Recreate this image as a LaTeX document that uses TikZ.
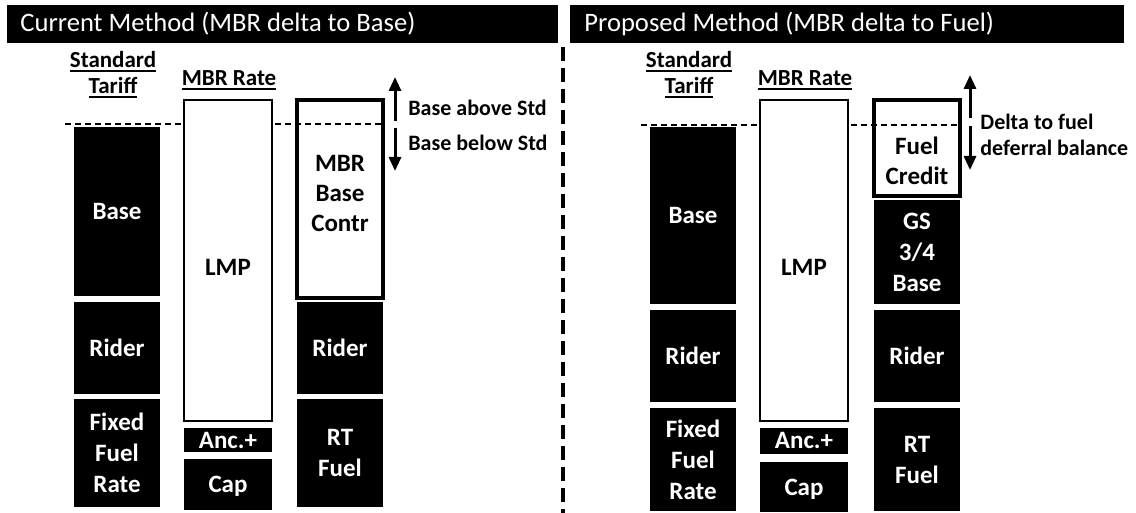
\documentclass[tikz,border=0pt]{standalone}
\usepackage{fontspec}
\setmainfont{Carlito}
\newcommand{\myul}[1]{\setbox0\hbox{#1}\rlap{\rule[-2.4pt]{\wd0}{1pt}}\box0}
\usetikzlibrary{arrows.meta}
\begin{document}
\begin{tikzpicture}[x=0.5pt,y=-0.5pt,
 rb/.style n args={4}{at={({(#1+#3)/2},{(#2+#4)/2})}, minimum width={(#3-#1)*0.5pt}, minimum height={(#4-#2)*0.5pt}, inner sep=0pt, outer sep=0pt},
 bk/.style={fill=black, text=white, align=center, font=\fontsize{12.5}{15.5}\selectfont\bfseries},
 bkone/.style={fill=black, text=white, text height=8pt, text depth=0pt, font=\fontsize{12.5}{15.5}\selectfont\bfseries},
 wb/.style={draw=black, fill=white, line width=1.25pt},
 wbt/.style={wb, line width=2pt},
 hdr/.style={fill=black},
 hdrtxt/.style={text=white, anchor=west, inner sep=0pt, font=\fontsize{13.3}{15}\selectfont},
 toplbl/.style={inner sep=0pt, font=\fontsize{11.5}{14}\selectfont\bfseries},
 sidelbl/.style={anchor=west, inner sep=0pt, font=\fontsize{11}{13}\selectfont\bfseries},
 boxtxt/.style={inner sep=0pt, align=center, font=\fontsize{12.5}{15}\selectfont\bfseries},
 stdline/.style={line width=1.25pt, dash pattern=on 3pt off 2pt},
 divline/.style={line width=1.6pt, dash pattern=on 7pt off 3.5pt},
 varrow/.style={line width=1.5pt, -{Triangle[length=7pt,width=6pt]}}
]
\useasboundingbox (0,0) rectangle (1136,513);

% ---------------- divider
\coordinate (dT) at (563,47);
\coordinate (dB) at (563,513);
\draw[divline] (dT) -- (dB);

% ================= LEFT PANEL
\node[hdr, rb={7}{5}{558}{43}] (hdrL) {};
\node[hdrtxt] (hdrLt) at (20,24) {Current Method (MBR delta to Base)};
\node[toplbl] (stdL1) at (113,62) {\myul{Standard}};
\node[toplbl] (stdL2) at (113,88) {\myul{Tariff}};
\node[toplbl] (mbrL) at (229,80) {\myul{MBR Rate}};

\node[bk, rb={74}{127}{160}{296}] (baseL) {Base};
\node[bk, rb={74}{302}{160}{394}] (riderL) {Rider};
\node[bk, rb={74}{399}{160}{507}] (fixedL) {Fixed\\Fuel\\Rate};

\node[wbt, rb={297}{100}{383}{298}] (contrL) {};
\node[boxtxt] (contrLt) at (340,193) {MBR\\Base\\Contr};

\coordinate (hL1) at (65,124);
\coordinate (hL2) at (383,124);
\draw[stdline] (hL1) -- (hL2);

\node[wb, rb={184}{100}{272}{421}] (lmpL) {};
\node[boxtxt] (lmpLt) at (228,267) {LMP};
\node[bkone, rb={184}{428}{272}{452}] (ancL) {Anc.+};
\node[bkone, rb={184}{459}{272}{510}] (capL) {Cap};

\node[bk, rb={297}{302}{383}{394}] (rider2L) {Rider};
\node[bk, rb={297}{399}{383}{507}] (rtL) {RT\\Fuel};

\coordinate (aLu0) at (395,121);
\coordinate (aLu1) at (395,77);
\coordinate (aLd0) at (395,128);
\coordinate (aLd1) at (395,171);
\draw[varrow] (aLu0) -- (aLu1);
\draw[varrow] (aLd0) -- (aLd1);
\node[sidelbl] (lblAbove) at (408,108) {Base above Std};
\node[sidelbl] (lblBelow) at (408,143) {Base below Std};

% ================= RIGHT PANEL
\node[hdr, rb={570}{5}{1124}{43}] (hdrR) {};
\node[hdrtxt] (hdrRt) at (584,24) {Proposed Method (MBR delta to Fuel)};
\node[toplbl] (stdR1) at (689,62) {\myul{Standard}};
\node[toplbl] (stdR2) at (689,88) {\myul{Tariff}};
\node[toplbl] (mbrR) at (805,80) {\myul{MBR Rate}};

\node[bk, rb={650}{127}{736}{304}] (baseR) {Base};
\node[bk, rb={650}{310}{736}{402}] (riderR) {Rider};
\node[bk, rb={650}{408}{736}{511}] (fixedR) {Fixed\\Fuel\\Rate};

\node[wbt, rb={874}{100}{960}{196}] (creditR) {};
\node[boxtxt] (creditRt) at (917,161) {Fuel\\Credit};

\coordinate (hR1) at (641,125);
\coordinate (hR2) at (960,125);
\draw[stdline] (hR1) -- (hR2);

\node[wb, rb={760}{100}{848}{421}] (lmpR) {};
\node[boxtxt] (lmpRt) at (804,267) {LMP};
\node[bkone, rb={760}{428}{848}{454}] (ancR) {Anc.+};
\node[bkone, rb={760}{462}{848}{512}] (capR) {Cap};

\node[bk, rb={874}{200}{960}{304}] (gsR) {GS\\3/4\\Base};
\node[bk, rb={874}{310}{960}{402}] (rider2R) {Rider};
\node[bk, rb={874}{408}{960}{511}] (rtR) {RT\\Fuel};

\coordinate (aRu0) at (970,118);
\coordinate (aRu1) at (970,75);
\coordinate (aRd0) at (970,126);
\coordinate (aRd1) at (970,170);
\draw[varrow] (aRu0) -- (aRu1);
\draw[varrow] (aRd0) -- (aRd1);
\node[sidelbl] (lblDelta) at (980,122) {Delta to fuel};
\node[sidelbl] (lblDefer) at (980,148) {deferral balance};
\end{tikzpicture}
\end{document}
